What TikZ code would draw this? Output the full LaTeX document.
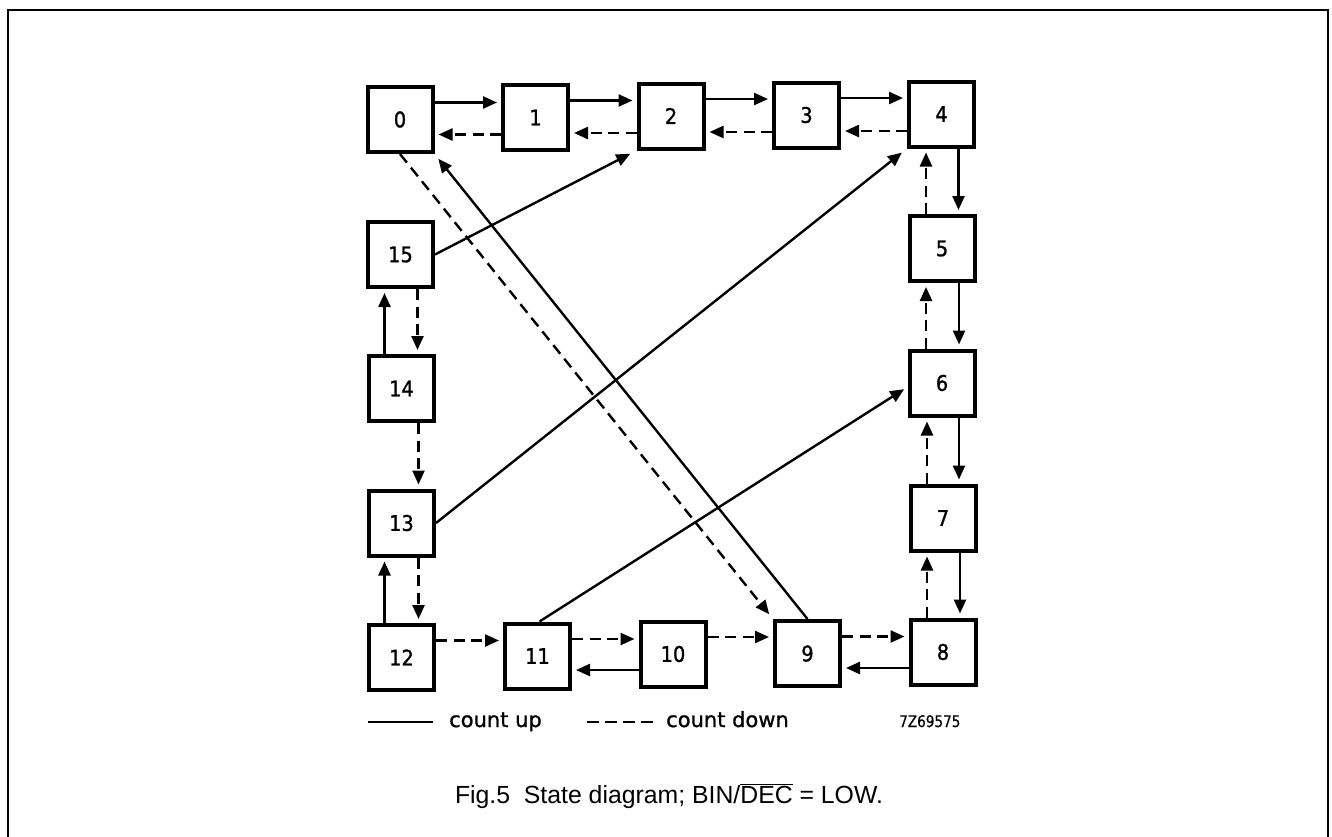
\documentclass[tikz,border=0pt]{standalone}
\usepackage{fontspec}
\setmainfont{Liberation Sans}
\newfontfamily\boxfont[FakeStretch=0.9,FakeBold=1.2]{DejaVu Sans}
\newfontfamily\legfont[FakeBold=1]{DejaVu Sans}
\newfontfamily\codefont[FakeStretch=0.85,FakeBold=0.6]{DejaVu Sans}
\usetikzlibrary{arrows.meta}
\begin{document}
\begin{tikzpicture}[x=1pt,y=-1pt,
  state/.style={draw,line width=4pt,minimum width=65pt,minimum height=65pt,inner sep=0pt,
    font=\boxfont\fontsize{21.5}{21.5}\selectfont},
  cup/.style={line width=2.4pt,-{Triangle[length=14pt,width=12pt]},shorten >=4pt},
  cdown/.style={cup,dash pattern=on 11pt off 6.5pt},
  legtext/.style={anchor=base west,inner sep=0pt,font=\legfont\fontsize{21}{21}\selectfont},
]
\useasboundingbox (0,0) rectangle (1332,836);
% frame
\draw[line width=2pt] (8,840) -- (8,9.5) -- (1327.7,9.5) -- (1327.7,840);

% states
\node[state] (n0)  at (400,119.5) {0};
\node[state] (n1)  at (535.5,117.5) {1};
\node[state] (n2)  at (671,116) {2};
\node[state] (n3)  at (806.5,115) {3};
\node[state] (n4)  at (941.5,114) {4};
\node[state] (n5)  at (942,248.5) {5};
\node[state] (n6)  at (942,383) {6};
\node[state] (n7)  at (943,518) {7};
\node[state] (n8)  at (943,652) {8};
\node[state] (n9)  at (807.5,653.5) {9};
\node[state] (n10) at (673,654) {10};
\node[state] (n11) at (537.5,656) {11};
\node[state] (n12) at (401.5,657.5) {12};
\node[state] (n13) at (401.5,523) {13};
\node[state] (n14) at (401.5,388.5) {14};
\node[state] (n15) at (400.5,254.5) {15};

% top row
\foreach \a/\b in {n0/n1,n1/n2,n2/n3,n3/n4}{
  \draw[cup] ([yshift=17pt]\a.east) coordinate (t) -- (t -| \b.west);
  \draw[cdown] ([yshift=-17pt]\b.west) coordinate (t) -- (t -| \a.east);
}
% right column
\foreach \a/\b in {n4/n5,n5/n6,n6/n7,n7/n8}{
  \draw[cup] ([xshift=17pt]\a.south) coordinate (t) -- (t |- \b.north);
  \draw[cdown] ([xshift=-16pt]\b.north) coordinate (t) -- (t |- \a.south);
}
% bottom row
\draw[cup] ([yshift=-16pt]n8.west) coordinate (t) -- (t -| n9.east);
\draw[cdown] ([yshift=17pt]n9.east) coordinate (t) -- (t -| n8.west);
\draw[cdown] ([yshift=17pt]n10.east) coordinate (t) -- (t -| n9.west);
\draw[cup] ([yshift=-16pt]n10.west) coordinate (t) -- (t -| n11.east);
\draw[cdown] ([yshift=17pt]n11.east) coordinate (t) -- (t -| n10.west);
\draw[cdown] ([yshift=17pt]n12.east) coordinate (t) -- (t -| n11.west);
% left column
\draw[cup] ([xshift=-17pt]n12.north) coordinate (t) -- (t |- n13.south);
\draw[cdown] ([xshift=17pt]n13.south) coordinate (t) -- (t |- n12.north);
\draw[cdown] ([xshift=17pt]n14.south) coordinate (t) -- (t |- n13.north);
\draw[cup] ([xshift=-17pt]n14.north) coordinate (t) -- (t |- n15.south);
\draw[cdown] ([xshift=17pt]n15.south) coordinate (t) -- (t |- n14.north);

% diagonals
\draw[cup,shorten >=7pt] (n15.east) -- (n2.south west);
\draw[cup,shorten >=6.5pt] (n13.east) -- (n4.south west);
\draw[cup] ([xshift=2pt]n11.north) -- ([yshift=-4pt]n6.west);
\draw[cup,shorten >=6pt] (n9.north) -- (n0.south east);
\draw[cdown,shorten >=6pt] (n0.south) -- (n9.north west);

% legend
\coordinate (ls1) at (368,722);
\coordinate (ls2) at (433,722);
\draw[line width=2.4pt] (ls1) -- (ls2);
\node[legtext] (lup) at (449,727) {count up};
\coordinate (ld1) at (587,722);
\coordinate (ld2) at (658,722);
\draw[line width=2.4pt,dash pattern=on 12pt off 6pt] (ld1) -- (ld2);
\node[legtext] (ldn) at (666,727) {count down};
\node[anchor=base west,inner sep=0pt,font=\codefont\fontsize{16}{16}\selectfont] (code) at (899,727) {7Z69575};

% caption
\node[anchor=base,inner sep=0pt,font=\fontsize{24.8}{30}\selectfont] (cap) at (669,803)
  {Fig.5~~State diagram; BIN/$\overline{\hbox{DEC}}$ = LOW.};
\end{tikzpicture}
\end{document}
